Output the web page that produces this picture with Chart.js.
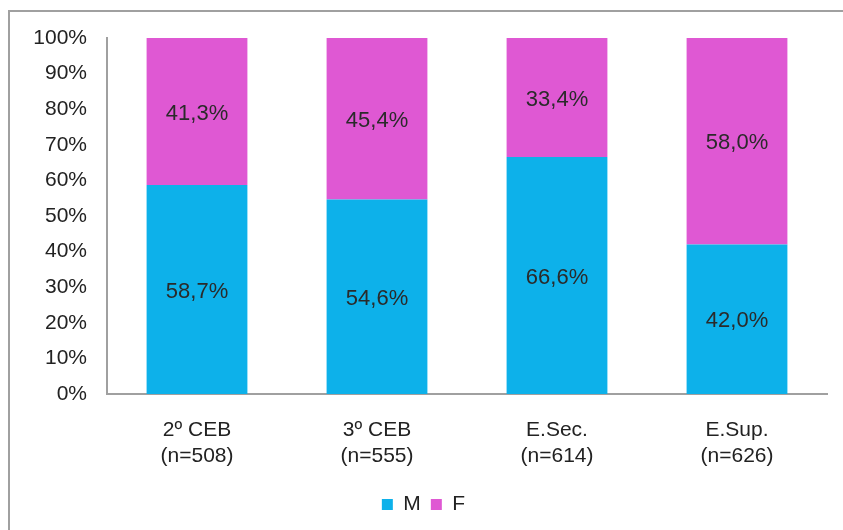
<!DOCTYPE html>
<html>
<head>
<meta charset="utf-8">
<script src="https://cdn.jsdelivr.net/npm/chart.js@4"></script>
<style>
  html, body { margin: 0; padding: 0; background: #fff; overflow: hidden; }
  #frame { position: absolute; left: 8px; top: 10px; width: 900px; height: 600px; border: 2px solid #a0a0a0; }
  #wrap { position: absolute; left: 0; top: 0; width: 843px; height: 530px; }
</style>
</head>
<body>
<div id="frame"></div>
<div id="wrap"><canvas id="chart" width="843" height="530"></canvas></div>
<script>
// categories and shares (percent)
const categories = [['2º CEB', '(n=508)'], ['3º CEB', '(n=555)'], ['E.Sec.', '(n=614)'], ['E.Sup.', '(n=626)']];
const maleValues = [58.7, 54.6, 66.6, 42.0];
const femaleValues = [41.3, 45.4, 33.4, 58.0];
const yTicks = [0, 10, 20, 30, 40, 50, 60, 70, 80, 90, 100];

const FONT = 'Arial, "Liberation Sans", sans-serif';

// draws the value inside each bar segment, like Excel data labels
const segmentLabels = {
  id: 'segmentLabels',
  afterDatasetsDraw(chart) {
    const ctx = chart.ctx;
    ctx.save();
    ctx.font = '22px ' + FONT;
    ctx.fillStyle = '#2a2a2a';
    ctx.textAlign = 'center';
    ctx.textBaseline = 'middle';
    chart.data.datasets.forEach((ds, i) => {
      chart.getDatasetMeta(i).data.forEach((bar, j) => {
        const v = ds.data[j];
        ctx.fillText(v.toFixed(1).replace('.', ',') + '%', bar.x, (bar.y + bar.base) / 2 + 2);
      });
    });
    ctx.restore();
  }
};

// nudge the legend a bit to the right, as in the original
const legendShift = {
  id: 'legendShift',
  afterLayout(chart) {
    if (chart.legend) { chart.legend.left += 10; chart.legend.right += 10; }
  }
};

new Chart(document.getElementById('chart'), {
  type: 'bar',
  data: {
    labels: categories,
    datasets: [
      { label: 'M', data: maleValues, backgroundColor: '#0db1ea' },
      { label: 'F', data: femaleValues, backgroundColor: '#df58d3' }
    ]
  },
  options: {
    responsive: false,
    animation: false,
    layout: { padding: { left: 0, right: 16, top: 38, bottom: 5 } },
    datasets: { bar: { categoryPercentage: 1, barPercentage: 0.56 } },
    plugins: {
      tooltip: { enabled: false },
      legend: {
        position: 'bottom',
        labels: {
          color: '#222',
          font: { family: FONT, size: 21 },
          boxWidth: 11,
          boxHeight: 11,
          padding: 10
        }
      }
    },
    scales: {
      x: {
        stacked: true,
        grid: { display: false },
        border: { display: true, color: '#a0a0a0', width: 2 },
        ticks: {
          color: '#222',
          padding: 15,
          font: { family: FONT, size: 21, lineHeight: 1.24 }
        },
        afterFit: s => { s.height = 90; }
      },
      y: {
        stacked: true,
        min: 0,
        max: 100,
        afterBuildTicks: s => { s.ticks = yTicks.map(v => ({ value: v })); },
        grid: { display: false, drawTicks: false },
        border: { display: true, color: '#a0a0a0', width: 2 },
        ticks: {
          color: '#222',
          padding: 20,
          font: { family: FONT, size: 21 },
          callback: v => v + '%'
        },
        afterFit: s => { s.width = 107; }
      }
    }
  },
  plugins: [segmentLabels, legendShift]
});
</script>
</body>
</html>
